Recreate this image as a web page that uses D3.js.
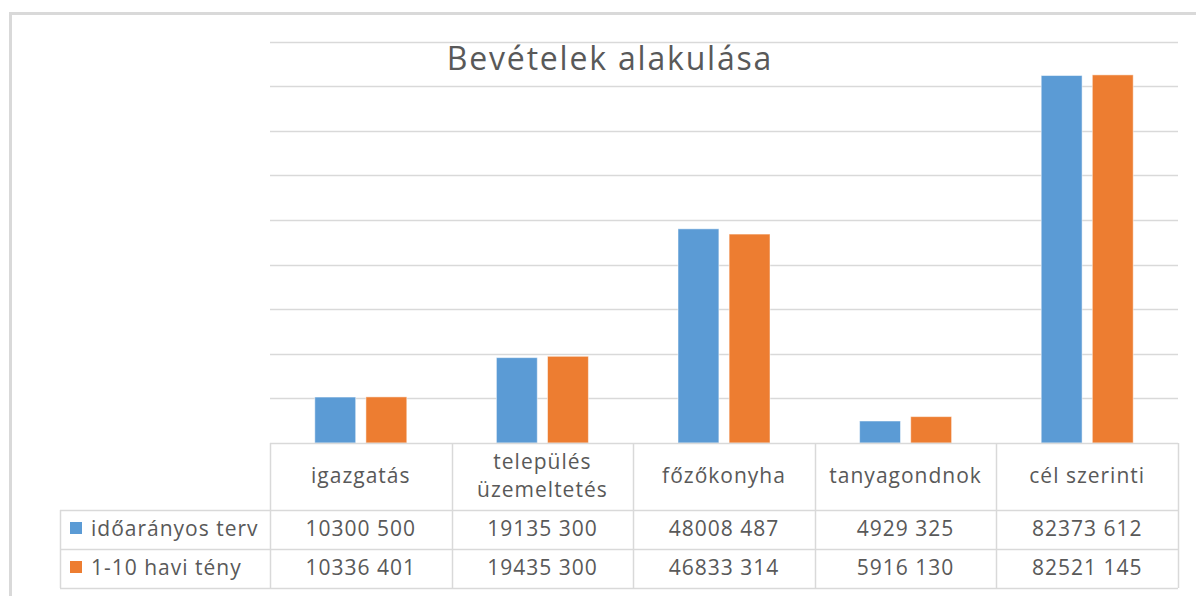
<!DOCTYPE html>
<html>
<head>
<meta charset="utf-8">
<script src="https://cdn.jsdelivr.net/npm/d3@7"></script>
<style>
  body { margin: 0; background: #fff; }
  text { font-family: "Open Sans", Lato, sans-serif; fill: #595959; }
</style>
</head>
<body>
<script>
let categories = ['igazgatás', 'település üzemeltetés', 'főzőkonyha', 'tanyagondnok', 'cél szerinti'];
let seriesNames = ['időarányos terv', '1-10 havi tény'];
let plan = [10300500, 19135300, 48008487, 4929325, 82373612];
let actual = [10336401, 19435300, 46833314, 5916130, 82521145];
let planLabels = ['10300 500', '19135 300', '48008 487', '4929 325', '82373 612'];
let actualLabels = ['10336 401', '19435 300', '46833 314', '5916 130', '82521 145'];
let gridTicks = [10e6, 20e6, 30e6, 40e6, 50e6, 60e6, 70e6, 80e6, 90e6];

let colors = ['#5b9bd5', '#ed7d31'];
let width = 1196;
let height = 596;

let svg = d3.select('body').append('svg')
    .attr('width', width)
    .attr('height', height);

// outer frame
svg.append('rect')
    .attr('x', 10.5)
    .attr('y', 13.5)
    .attr('width', width + 20)
    .attr('height', height + 20)
    .attr('fill', 'none')
    .attr('stroke', '#d9d9d9')
    .attr('stroke-width', 3);

let plotLeft = 270, plotRight = 1178, plotTop = 41.5, baseline = 443;

let x = d3.scaleBand()
    .domain(categories)
    .range([plotLeft, plotRight])
    .padding(0);

let xs = d3.scaleBand()
    .domain(seriesNames)
    .range([-46, 46])
    .paddingInner(0.2);

let y = d3.scaleLinear()
    .domain([0, 90e6])
    .range([baseline, plotTop]);

svg.selectAll('.grid')
    .data(gridTicks)
    .join('line')
    .attr('class', 'grid')
    .attr('x1', plotLeft)
    .attr('x2', plotRight)
    .attr('y1', d => Math.round(y(d)) + 0.5)
    .attr('y2', d => Math.round(y(d)) + 0.5)
    .attr('stroke', '#d9d9d9')
    .attr('stroke-width', 1.5);

let series = [plan, actual];

series.forEach((vals, s) => {
    svg.selectAll('.bar' + s)
        .data(vals)
        .join('rect')
        .attr('class', 'bar' + s)
        .attr('x', (d, i) => x(categories[i]) + x.bandwidth() / 2 + xs(seriesNames[s]))
        .attr('width', xs.bandwidth())
        .attr('y', d => y(d))
        .attr('height', d => baseline - y(d))
        .attr('fill', colors[s])
        .attr('stroke', '#ffffff')
        .attr('stroke-opacity', 0.5)
        .attr('stroke-width', 1);
});

svg.append('text')
    .attr('x', 610)
    .attr('y', 70)
    .attr('text-anchor', 'middle')
    .style('font-size', '32px')
    .style('letter-spacing', '1.8px')
    .text('Bevételek alakulása');

// data table
let tableLeft = 60;
let rowLines = [baseline, 510, 549, 588];
let lineColor = '#d9d9d9';

svg.append('line')
    .attr('x1', plotLeft).attr('x2', plotRight)
    .attr('y1', baseline + 0.5).attr('y2', baseline + 0.5)
    .attr('stroke', lineColor).attr('stroke-width', 1.5);

svg.selectAll('.hline')
    .data(rowLines.slice(1))
    .join('line')
    .attr('class', 'hline')
    .attr('x1', tableLeft).attr('x2', plotRight)
    .attr('y1', d => d + 0.5).attr('y2', d => d + 0.5)
    .attr('stroke', lineColor).attr('stroke-width', 1.5);

let colEdges = categories.map(c => x(c)).concat([plotRight]);
svg.selectAll('.vline')
    .data(colEdges)
    .join('line')
    .attr('class', 'vline')
    .attr('x1', d => Math.round(d) + 0.5).attr('x2', d => Math.round(d) + 0.5)
    .attr('y1', baseline).attr('y2', 588)
    .attr('stroke', lineColor).attr('stroke-width', 1.5);

svg.append('line')
    .attr('x1', tableLeft + 0.5).attr('x2', tableLeft + 0.5)
    .attr('y1', 510).attr('y2', 588)
    .attr('stroke', lineColor).attr('stroke-width', 1.5);

let fs = '21px';
let ls = '1px';

// header labels
svg.selectAll('.cat')
    .data(categories)
    .join('text')
    .attr('class', 'cat')
    .attr('x', d => x(d) + x.bandwidth() / 2)
    .attr('y', 483)
    .attr('text-anchor', 'middle')
    .style('font-size', fs)
    .style('letter-spacing', ls)
    .each(function (d) {
        let words = d.split(' ');
        let t = d3.select(this);
        if (d === 'település üzemeltetés') {
            t.append('tspan').attr('x', t.attr('x')).attr('y', 469).text(words[0]);
            t.append('tspan').attr('x', t.attr('x')).attr('y', 497).text(words[1]);
        } else {
            t.text(d);
        }
    });

let rowLabels = [planLabels, actualLabels];
let rowY = [536, 575];

rowLabels.forEach((labels, r) => {
    svg.selectAll('.val' + r)
        .data(labels)
        .join('text')
        .attr('class', 'val' + r)
        .attr('x', (d, i) => x(categories[i]) + x.bandwidth() / 2)
        .attr('y', rowY[r])
        .attr('text-anchor', 'middle')
        .style('font-size', fs)
        .style('letter-spacing', ls)
        .text(d => d);
});

// legend keys
svg.selectAll('.key')
    .data(seriesNames)
    .join('rect')
    .attr('class', 'key')
    .attr('x', 70)
    .attr('y', (d, i) => rowY[i] - 14)
    .attr('width', 12)
    .attr('height', 12)
    .attr('fill', (d, i) => colors[i]);

svg.selectAll('.keylabel')
    .data(seriesNames)
    .join('text')
    .attr('class', 'keylabel')
    .attr('x', 91)
    .attr('y', (d, i) => rowY[i])
    .style('font-size', fs)
    .style('letter-spacing', ls)
    .text(d => d);
</script>
</body>
</html>
